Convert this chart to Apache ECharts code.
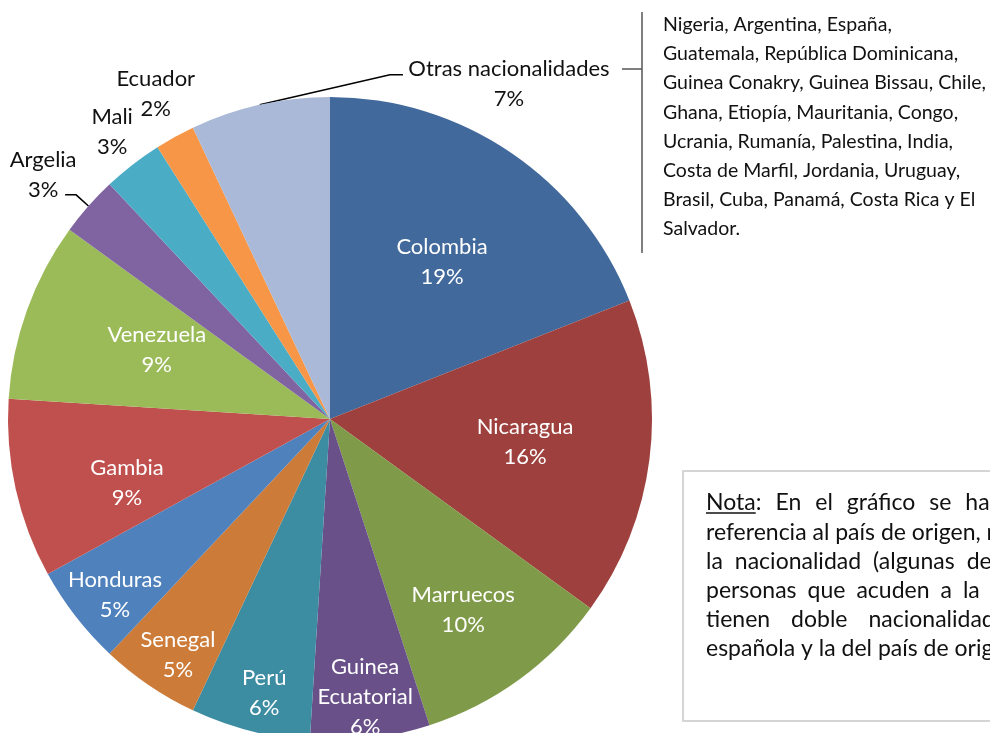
<!DOCTYPE html>
<html>
<head>
<meta charset="utf-8">
<script src="https://cdn.jsdelivr.net/npm/echarts@6/dist/echarts.min.js"></script>
<style>
html, body { margin: 0; padding: 0; background: #fff; }
#chart { width: 990px; height: 733px; }
</style>
</head>
<body>
<div id="chart"></div>
<script>
var countries = ['Colombia', 'Nicaragua', 'Marruecos', 'Guinea\nEcuatorial', 'Perú', 'Senegal', 'Honduras',
    'Gambia', 'Venezuela', 'Argelia', 'Mali', 'Ecuador', 'Otras nacionalidades']
var shares = [19, 16, 10, 6, 6, 5, 5, 9, 9, 3, 3, 2, 7]
var colors = ['#41699C', '#9E403D', '#7F9A48', '#6A5088', '#3C8CA2', '#CC7B38', '#4F81BD',
    '#C0504D', '#9BBB59', '#8064A2', '#4BACC6', '#F79646', '#A9B9D7']

var otherCountries = [
    'Nigeria, Argentina, España,',
    'Guatemala, República Dominicana,',
    'Guinea Conakry, Guinea Bissau, Chile,',
    'Ghana, Etiopía, Mauritania, Congo,',
    'Ucrania, Rumanía, Palestina, India,',
    'Costa de Marfil, Jordania, Uruguay,',
    'Brasil, Cuba, Panamá, Costa Rica y El',
    'Salvador.'
]
var noteLines = [
    'Nota: En el gráfico se hace',
    'referencia al país de origen, no a',
    'la nacionalidad (algunas de las',
    'personas que acuden a la',
    'tienen doble nacionalidad; la',
    'española y la del país de origen).'
]
// space between words on each justified line, px (0 = normal space)
var noteGaps = [14, 0, 12, 11, 21, 0]

// where each label sits: [radius factor, clockwise angle from 12 o'clock in degrees]
var labelSpots = [[0.599, 35.5], [0.61, 96.7], [0.723, 145.1], [0.87, 172.8], [0.875, 193.5],
    [0.872, 212.8], [0.863, 230.7], [0.661, 252.5], [0.579, 291.7],
    [1.17, 310.4], [1.119, 322.8], [1.145, 331.8], [1.18, 28.1]]
var darkLabel = [false, false, false, false, false, false, false, false, false, true, true, true, true]

var cx = 330, cy = 419, R = 322

var measureCtx = document.createElement('canvas').getContext('2d')
function textWidth(s, size) {
    measureCtx.font = size + 'px Lato'
    return measureCtx.measureText(s).width
}
// size Lato so widths match the original Calibri text
var labelSize = Math.round(100 * 203 / textWidth('Otras nacionalidades', 100) * 2) / 2
var noteSize = Math.round(100 * 274 / textWidth('referencia al país de origen,', 100) * 2) / 2
var listSize = Math.round(100 * 230 / textWidth('Nigeria, Argentina, España,', 100) * 2) / 2

var total = shares.reduce(function (a, b) { return a + b }, 0)
function midAngle(i) {
    var before = 0
    for (var k = 0; k < i; k++) before += shares[k]
    return (before + shares[i] / 2) / total * 2 * Math.PI
}
function spot(i) {
    var a = labelSpots[i][1] * Math.PI / 180, f = labelSpots[i][0]
    return [cx + R * f * Math.sin(a), cy - R * f * Math.cos(a)]
}
function edge(i) {
    var a = midAngle(i)
    return [cx + R * Math.sin(a), cy - R * Math.cos(a)]
}

function buildNote() {
    var children = [{
        type: 'rect',
        shape: { x: -23, y: -32, width: 400, height: 250 },
        style: { fill: '#fff', stroke: '#D5D5D5', lineWidth: 2 }
    }]
    var spaceW = textWidth(' ', noteSize)
    noteLines.forEach(function (line, row) {
        var rowY = row * 29.2
        var gap = noteGaps[row] || spaceW
        var pos = 0
        line.split(' ').forEach(function (word, n) {
            children.push({
                type: 'text',
                x: pos,
                y: rowY,
                style: {
                    text: word, fill: '#111', font: noteSize + 'px Lato',
                    align: 'left', verticalAlign: 'middle'
                }
            })
            if (row === 0 && n === 0) {
                children.push({
                    type: 'line',
                    shape: { x1: 0, y1: 10, x2: textWidth('Nota', noteSize), y2: 10 },
                    style: { stroke: '#111', lineWidth: 1.5 }
                })
            }
            pos += textWidth(word, noteSize) + gap
        })
    })
    return { type: 'group', x: 706, y: 503, children: children }
}

function buildList() {
    var children = [
        { type: 'line', shape: { x1: -41, y1: 44, x2: -21, y2: 44 }, style: { stroke: '#555', lineWidth: 1.5 } },
        { type: 'line', shape: { x1: -21, y1: -13, x2: -21, y2: 228 }, style: { stroke: '#555', lineWidth: 1.5 } }
    ]
    otherCountries.forEach(function (line, row) {
        children.push({
            type: 'text',
            x: 0,
            y: row * 29.1,
            style: {
                text: line, fill: '#111', font: listSize + 'px Lato',
                align: 'left', verticalAlign: 'middle'
            }
        })
    })
    return { type: 'group', x: 663, y: 25, children: children }
}

function buildLeaders() {
    var ia = countries.indexOf('Argelia'), io = countries.indexOf('Otras nacionalidades')
    var sa = spot(ia), so = spot(io)
    return [{
        type: 'polyline',
        shape: { points: [edge(ia), [sa[0] + 33, sa[1] + 20], [sa[0] + 22, sa[1] + 20]] },
        style: { stroke: '#000', lineWidth: 1.5, fill: null }
    }, {
        type: 'polyline',
        shape: { points: [edge(io), [so[0] - 119, so[1] - 9], [so[0] - 106, so[1] - 9]] },
        style: { stroke: '#000', lineWidth: 1.5, fill: null }
    }]
}

var pieData = countries.map(function (name, i) {
    return {
        name: name,
        value: shares[i],
        itemStyle: { color: colors[i] },
        label: { color: darkLabel[i] ? '#111' : '#fff' }
    }
})

var chart = echarts.init(document.getElementById('chart'))
chart.setOption({
    backgroundColor: '#fff',
    animation: false,
    series: [{
        type: 'pie',
        center: [cx, cy],
        radius: R,
        startAngle: 90,
        clockwise: true,
        data: pieData,
        silent: true,
        emphasis: { disabled: true },
        label: {
            position: 'inside',
            formatter: '{b}\n{c}%',
            fontFamily: 'Lato',
            fontSize: labelSize,
            lineHeight: 30,
            align: 'center'
        },
        labelLine: { show: false },
        labelLayout: function (p) {
            var s = spot(p.dataIndex)
            return { x: s[0], y: s[1], align: 'center', verticalAlign: 'middle' }
        }
    }],
    graphic: buildLeaders().concat([buildList(), buildNote()])
})
</script>
</body>
</html>
